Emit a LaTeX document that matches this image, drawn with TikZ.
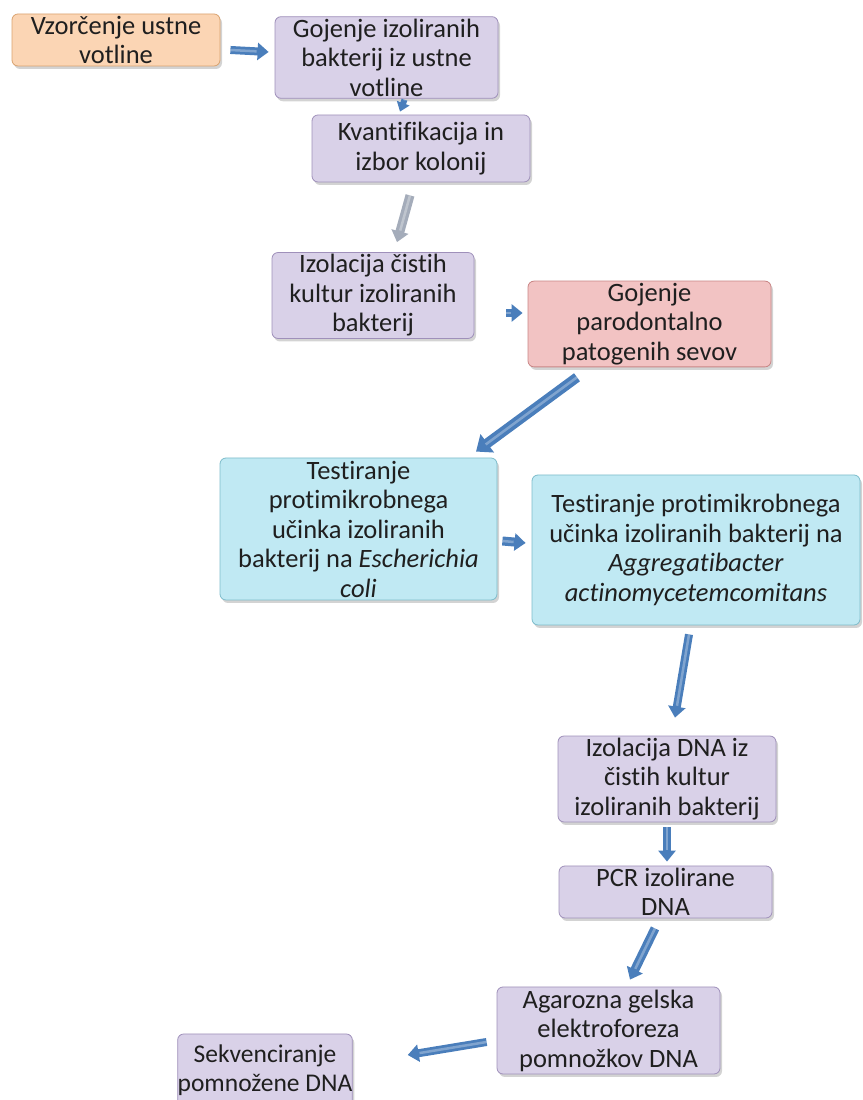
\documentclass[tikz,border=0pt]{standalone}
\usepackage{fontspec}
\setmainfont{Carlito}[Ligatures={NoCommon}]
\usetikzlibrary{arrows.meta,shadows}
\definecolor{peachfill}{HTML}{FBD5B4}
\definecolor{peachdraw}{HTML}{D9A26E}
\definecolor{lavfill}{HTML}{D9D1E8}
\definecolor{lavdraw}{HTML}{9F90BA}
\definecolor{pinkfill}{HTML}{F2C3C3}
\definecolor{pinkdraw}{HTML}{C98686}
\definecolor{cyanfill}{HTML}{C0E9F3}
\definecolor{cyandraw}{HTML}{7DBCCB}
\definecolor{arrowblue}{HTML}{4A7EBB}
\definecolor{arrowgrey}{HTML}{A4ACBA}

\tikzset{
    stepbox/.style={rectangle, rounded corners=6pt, align=center, inner sep=2pt,
        font=\fontsize{26.5}{29.5}\selectfont, text=black!88, line width=0.8pt,
        drop shadow={shadow xshift=2pt, shadow yshift=-3pt, opacity=0.35}},
    peachbox/.style={stepbox, fill=peachfill, draw=peachdraw},
    lavbox/.style={stepbox, fill=lavfill, draw=lavdraw},
    pinkbox/.style={stepbox, fill=pinkfill, draw=pinkdraw},
    cyanbox/.style={stepbox, fill=cyanfill, draw=cyandraw},
    blockarrow/.style={draw=arrowblue, line width=8pt,
        -{Triangle[length=11pt, width=17pt]},
        postaction={draw=white, draw opacity=0.3, line width=2.5pt, shorten >=12pt, -}},
    greyarrow/.style={blockarrow, draw=arrowgrey}
}

\begin{document}
\begin{tikzpicture}[x=1pt, y=1pt]
        \useasboundingbox (0,0) rectangle (862,1100);

        % Boxes of the workflow
        \node[peachbox, minimum width=208, minimum height=52] (vzorcenje) at (116,1060)
            {Vzorčenje ustne\\ votline};
        \node[lavbox, minimum width=223, minimum height=81] (gojenje) at (386.5,1042.5)
            {Gojenje izoliranih\\ bakterij iz ustne\\ votline};
        \node[lavbox, minimum width=218, minimum height=67] (kvant) at (421,951.5)
            {Kvantifikacija in\\ izbor kolonij};
        \node[lavbox, minimum width=202, minimum height=79] (izolacija) at (373,804.5)
            {Izolacija čistih\\ kultur izoliranih\\ bakterij};
        \node[pinkbox, minimum width=243, minimum height=82] (patogeni) at (649.5,776)
            {Gojenje\\ parodontalno\\ patogenih sevov};
        \node[cyanbox, minimum width=277, minimum height=142] (ecoli) at (358.5,571)
            {Testiranje\\ protimikrobnega\\ učinka izoliranih\\ bakterij na \textit{Escherichia}\\ \textit{coli}};
        \node[cyanbox, minimum width=328, minimum height=150] (aggr) at (696,550)
            {Testiranje protimikrobnega\\ učinka izoliranih bakterij na\\ \textit{Aggregatibacter}\\ \textit{actinomycetemcomitans}};
        \node[lavbox, minimum width=218, minimum height=84] (dna) at (667,321)
            {Izolacija DNA iz\\ čistih kultur\\ izoliranih bakterij};
        \node[lavbox, minimum width=213, minimum height=52] (pcr) at (665.5,208)
            {PCR izolirane\\ DNA};
        \node[lavbox, minimum width=223, minimum height=87] (gel) at (608.5,69.5)
            {Agarozna gelska\\ elektroforeza\\ pomnožkov DNA};
        \node[lavbox, minimum width=174, minimum height=72, inner xsep=0pt,
            font=\fontsize{25.5}{29.5}\selectfont] (sekv) at (265,30)
            {Sekvenciranje\\ pomnožene DNA};

        % Block arrows between the steps
        \draw[blockarrow] ([xshift=10pt,yshift=-10pt]vzorcenje.east) -- ([xshift=-6pt,yshift=5.5pt]gojenje.west);
        \draw[blockarrow, line width=6pt, -{Triangle[length=9pt, width=13pt]}]
            ([xshift=18pt,yshift=-1pt]gojenje.south) -- ([xshift=-21pt,yshift=3pt]kvant.north);
        \draw[greyarrow, line width=9pt] ([xshift=-11pt,yshift=-13pt]kvant.south) -- ([xshift=24pt,yshift=10pt]izolacija.north);
        \draw[blockarrow] ([xshift=32pt,yshift=-17.5pt]izolacija.east) -- ([xshift=-5pt,yshift=11pt]patogeni.west);
        \draw[blockarrow, line width=10pt, -{Triangle[length=14pt, width=22pt]}]
            ([xshift=-72.5pt,yshift=-10pt]patogeni.south) -- ([xshift=117.5pt,yshift=6pt]ecoli.north);
        \draw[blockarrow, line width=9pt] ([xshift=5pt,yshift=-12pt]ecoli.east) -- ([xshift=-6pt,yshift=7pt]aggr.west);
        \draw[blockarrow] ([xshift=-7pt,yshift=-9pt]aggr.south) -- ([xshift=8pt,yshift=18pt]dna.north);
        \draw[blockarrow] ([yshift=-5pt]dna.south) -- ([xshift=1.5pt,yshift=4pt]pcr.north);
        \draw[blockarrow, line width=9pt] ([xshift=-10.5pt,yshift=-10pt]pcr.south) -- ([xshift=21.5pt,yshift=7pt]gel.north);
        \draw[blockarrow] ([xshift=-10pt,yshift=-11.5pt]gel.west) -- ([xshift=55pt,yshift=15pt]sekv.east);

\end{tikzpicture}
\end{document}
